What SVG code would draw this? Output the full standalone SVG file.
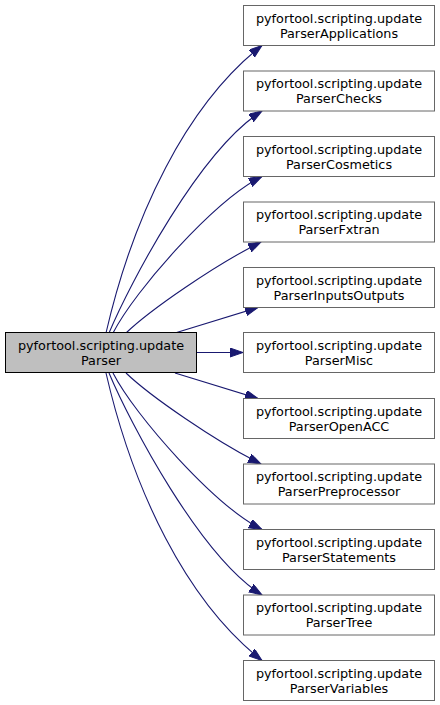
<svg xmlns="http://www.w3.org/2000/svg" width="440" height="705" viewBox="0 0 440 705">
<style>
.n rect{fill:#ffffff;stroke:#666666;stroke-width:1}
#root rect{fill:#bfbfbf;stroke:#000000}
text{font-family:"DejaVu Sans",sans-serif;font-size:12.8px;fill:#000000;text-anchor:middle}
.e path{fill:none;stroke:#191970;stroke-width:1.1}
</style>
<defs>
<marker id="ah" markerUnits="userSpaceOnUse" markerWidth="14" markerHeight="10" refX="13" refY="4.5" orient="auto">
<path d="M0,0 L13,4.5 L0,9 z" fill="#191970" stroke="#191970" stroke-width="1"/>
</marker>
</defs>
<g class="e" id="edges">
<path marker-end="url(#ah)" d="M106,333 C133,216 186,105 262,45.5"/>
<path marker-end="url(#ah)" d="M109,333 C130,283 200,150 262,111"/>
<path marker-end="url(#ah)" d="M113,333 C135,290 215,200 262,176.5"/>
<path marker-end="url(#ah)" d="M126,333 C150,310 215,265 261,242"/>
<path marker-end="url(#ah)" d="M175,333 L258,307.5"/>
<path marker-end="url(#ah)" d="M196.5,352.5 L243,352.5"/>
<path marker-end="url(#ah)" d="M175,373 L258,398.5"/>
<path marker-end="url(#ah)" d="M126,373 C150,396 215,441 261,464"/>
<path marker-end="url(#ah)" d="M113,373 C135,416 215,506 262,529.5"/>
<path marker-end="url(#ah)" d="M109,373 C130,423 200,556 262,595"/>
<path marker-end="url(#ah)" d="M106,373 C133,490 186,601 262,660.5"/>
</g>
<g id="root" class="n"><rect x="5.5" y="332.5" width="191" height="40"/><text x="101" y="349.5">pyfortool.scripting.update</text><text x="101" y="364.5">Parser</text></g>
<g id="n1" class="n"><rect x="243.5" y="5.5" width="191" height="40"/><text x="339" y="22.5">pyfortool.scripting.update</text><text x="339" y="37.5">ParserApplications</text></g>
<g id="n2" class="n"><rect x="243.5" y="71" width="191" height="40"/><text x="339" y="88">pyfortool.scripting.update</text><text x="339" y="103">ParserChecks</text></g>
<g id="n3" class="n"><rect x="243.5" y="136.5" width="191" height="40"/><text x="339" y="153.5">pyfortool.scripting.update</text><text x="339" y="168.5">ParserCosmetics</text></g>
<g id="n4" class="n"><rect x="243.5" y="202" width="191" height="40"/><text x="339" y="219">pyfortool.scripting.update</text><text x="339" y="234">ParserFxtran</text></g>
<g id="n5" class="n"><rect x="243.5" y="267.5" width="191" height="40"/><text x="339" y="284.5">pyfortool.scripting.update</text><text x="339" y="299.5">ParserInputsOutputs</text></g>
<g id="n6" class="n"><rect x="243.5" y="332.5" width="191" height="40"/><text x="339" y="349.5">pyfortool.scripting.update</text><text x="339" y="364.5">ParserMisc</text></g>
<g id="n7" class="n"><rect x="243.5" y="398.5" width="191" height="40"/><text x="339" y="415.5">pyfortool.scripting.update</text><text x="339" y="430.5">ParserOpenACC</text></g>
<g id="n8" class="n"><rect x="243.5" y="464" width="191" height="40"/><text x="339" y="481">pyfortool.scripting.update</text><text x="339" y="496">ParserPreprocessor</text></g>
<g id="n9" class="n"><rect x="243.5" y="529.5" width="191" height="40"/><text x="339" y="546.5">pyfortool.scripting.update</text><text x="339" y="561.5">ParserStatements</text></g>
<g id="n10" class="n"><rect x="243.5" y="595" width="191" height="40"/><text x="339" y="612">pyfortool.scripting.update</text><text x="339" y="627">ParserTree</text></g>
<g id="n11" class="n"><rect x="243.5" y="660.5" width="191" height="40"/><text x="339" y="677.5">pyfortool.scripting.update</text><text x="339" y="692.5">ParserVariables</text></g>
</svg>
